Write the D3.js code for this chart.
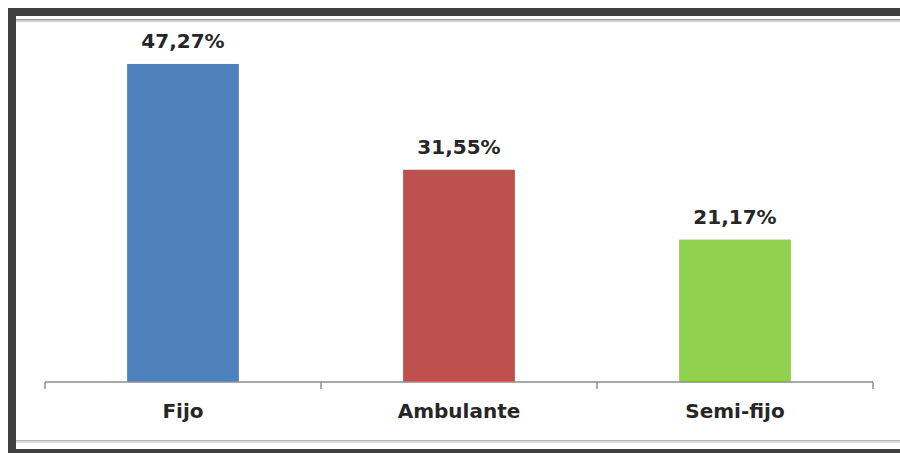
<!DOCTYPE html>
<html>
<head>
<meta charset="utf-8">
<script src="https://cdn.jsdelivr.net/npm/d3@7"></script>
<style>
  html, body { margin: 0; padding: 0; background: #fff; }
  svg { display: block; }
</style>
</head>
<body>
<svg id="chart" width="900" height="453"></svg>
<script>
const categories = ["Fijo", "Ambulante", "Semi-fijo"];
const values = [47.27, 31.55, 21.17];
const valueLabels = ["47,27%", "31,55%", "21,17%"];
const colors = ["#4F81BD", "#C0504D", "#92D050"];

const svg = d3.select("#chart");
const W = 900, H = 453;

// frame
svg.append("rect").attr("x", 0).attr("y", 0).attr("width", W).attr("height", H).attr("fill", "#fff");
svg.append("rect").attr("x", 8).attr("y", 8).attr("width", W - 8).attr("height", 8).attr("fill", "#404040");
svg.append("rect").attr("x", 8).attr("y", 8).attr("width", 8).attr("height", H - 8).attr("fill", "#404040");
svg.append("rect").attr("x", 8).attr("y", 449).attr("width", W - 8).attr("height", 4).attr("fill", "#404040");
// inner gray lines
svg.append("rect").attr("x", 16).attr("y", 19).attr("width", W - 16).attr("height", 1.5).attr("fill", "#9a9a9a");
svg.append("rect").attr("x", 16).attr("y", 20.5).attr("width", W - 16).attr("height", 1.5).attr("fill", "#d0d0d0");
svg.append("rect").attr("x", 16).attr("y", 440).attr("width", W - 16).attr("height", 1.5).attr("fill", "#b8b8b8");
svg.append("rect").attr("x", 16).attr("y", 441.5).attr("width", W - 16).attr("height", 1.5).attr("fill", "#dcdcdc");

const x = d3.scaleBand().domain(categories).range([45, 873]).padding(0);
const y = d3.scaleLinear().domain([0, 50]).range([382, 45.6]);
const barW = x.bandwidth() * 0.405;

// bars
svg.append("g").selectAll("rect").data(categories).join("rect")
  .attr("x", (d) => x(d) + x.bandwidth() / 2 - barW / 2)
  .attr("y", (d, i) => y(values[i]))
  .attr("width", barW)
  .attr("height", (d, i) => y(0) - y(values[i]))
  .attr("fill", (d, i) => colors[i]);

// axis
const axis = svg.append("g").attr("transform", "translate(0,382)")
  .call(d3.axisBottom(x).tickSize(0).tickPadding(22));
axis.select(".domain").attr("stroke", "#8c8c8c").attr("stroke-width", 1.5).attr("d", "M45,0H873");
axis.selectAll("text")
  .attr("font-family", "DejaVu Sans")
  .attr("font-size", 20)
  .attr("font-weight", "bold")
  .attr("fill", "#262626")
  .attr("dy", "0.71em");
// boundary ticks
const bounds = categories.map((c) => x(c)).concat([x(categories[categories.length - 1]) + x.bandwidth()]);
axis.selectAll(".bt").data(bounds).join("line")
  .attr("class", "bt")
  .attr("x1", (d) => d).attr("x2", (d) => d)
  .attr("y1", 0).attr("y2", 7)
  .attr("stroke", "#8c8c8c").attr("stroke-width", 1.5);

// value labels
svg.append("g").selectAll("text").data(categories).join("text")
  .attr("x", (d) => x(d) + x.bandwidth() / 2)
  .attr("y", (d, i) => y(values[i]) - 16)
  .attr("text-anchor", "middle")
  .attr("font-family", "DejaVu Sans")
  .attr("font-size", 20)
  .attr("font-weight", "bold")
  .attr("fill", "#262626")
  .text((d, i) => valueLabels[i]);
</script>
</body>
</html>
